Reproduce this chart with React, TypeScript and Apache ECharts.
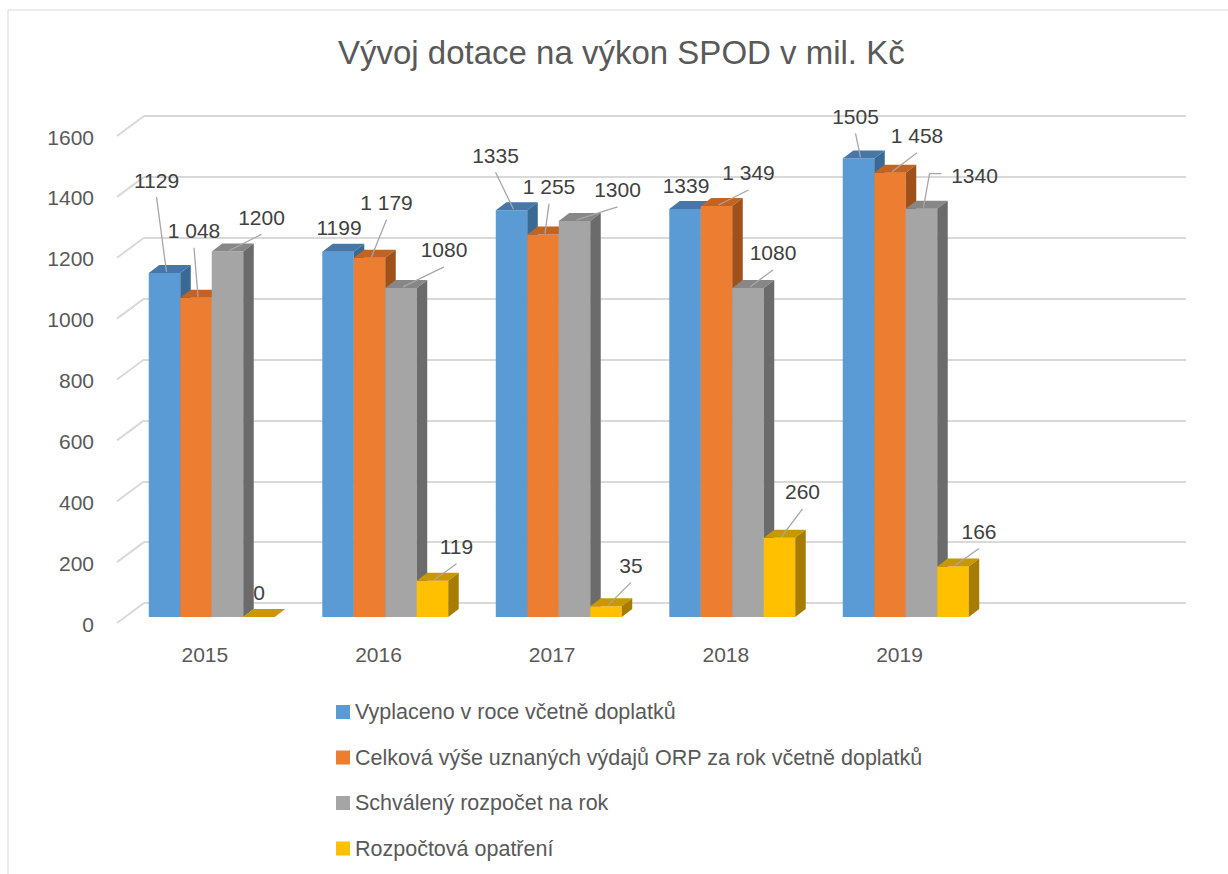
import React, { useEffect, useRef } from 'react';
import * as echarts from 'echarts';

const categories = ['2015', '2016', '2017', '2018', '2019', ''];
const seriesNames = [
  'Vyplaceno v roce včetně doplatků',
  'Celková výše uznaných výdajů ORP za rok včetně doplatků',
  'Schválený rozpočet na rok',
  'Rozpočtová opatření',
];
const vyplaceno = [1129, 1199, 1335, 1339, 1505];
const celkova = [1048, 1179, 1255, 1349, 1458];
const schvaleny = [1200, 1080, 1300, 1080, 1340];
const opatreni = [0, 119, 35, 260, 166];
const yTicks = [0, 200, 400, 600, 800, 1000, 1200, 1400, 1600];

const seriesValues = [vyplaceno, celkova, schvaleny, opatreni];
const useSpaceSeparator = [false, true, false, false];

const frontColors = ['#5B9BD5', '#ED7D31', '#A5A5A5', '#FFC000'];
const topColors = ['#4677A8', '#C2631F', '#878787', '#C99700'];
const sideColors = ['#3A6A94', '#9E5119', '#6B6B6B', '#A67D00'];

// label placement relative to bar top centre: [dx, dy, leader mode (0 none, 1 straight, 2 elbow)]
const labelOffsets = [
  [[-8, -93, 1], [1, -24, 0], [-16, -55, 1], [1, -24, 0], [-3, -42, 1]],
  [[-2, -67, 1], [17, -55, 1], [6, -48, 1], [32, -33, 1], [27, -37, 1]],
  [[34, -34, 1], [43, -38, 1], [43, -31, 1], [25, -35, 1], [53, -33, 2]],
  [[0, -25, 0], [24, -34, 1], [25, -41, 1], [23, -46, 1], [26, -35, 1]],
];

const FONT = 'Liberation Sans';
const BAR_RATIO = 0.1815;
const DX = 10.5;
const DY = -8;

function fmt(v: number, space: boolean) {
  const s = String(v);
  if (!space || v < 1000) return s;
  return s.slice(0, s.length - 3) + ' ' + s.slice(s.length - 3);
}

function barGeom(api: any, i: number, v: number, j: number) {
  const c = api.coord([i, v]);
  const base = api.coord([i, 0])[1];
  const bandW = api.size([1, 0])[0];
  const bw = bandW * BAR_RATIO;
  const x0 = c[0] - 2 * bw + j * bw;
  return { x0, bw, top: c[1], base };
}

function makeBarRender(j: number) {
  return (params: any, api: any) => {
    const i = api.value(0);
    const v = api.value(1);
    const { x0, bw, top, base } = barGeom(api, i, v, j);
    return {
      type: 'group',
      children: [
        {
          type: 'rect',
          shape: { x: x0, y: top, width: bw, height: base - top },
          style: { fill: frontColors[j] },
        },
        {
          type: 'polygon',
          shape: { points: [[x0, top], [x0 + bw, top], [x0 + bw + DX, top + DY], [x0 + DX, top + DY]] },
          style: { fill: topColors[j] },
        },
        {
          type: 'polygon',
          shape: { points: [[x0 + bw, top], [x0 + bw + DX, top + DY], [x0 + bw + DX, base + DY], [x0 + bw, base]] },
          style: { fill: sideColors[j] },
        },
      ],
    };
  };
}

function labelRender(params: any, api: any) {
  const i = api.value(0);
  const v = api.value(1);
  const j = api.value(2);
  const { x0, bw, top } = barGeom(api, i, v, j);
  const cx = x0 + bw / 2;
  const off = labelOffsets[j][i];
  const lx = cx + off[0];
  const ly = top + off[1];
  const children: any[] = [];
  if (off[2] === 1) {
    children.push({
      type: 'polyline',
      shape: { points: [[lx, ly + 17], [cx + 2, top - 1]] },
      style: { stroke: '#A6A6A6', lineWidth: 1.3, fill: 'none' },
    });
  } else if (off[2] === 2) {
    children.push({
      type: 'polyline',
      shape: { points: [[lx - 33, ly - 2], [lx - 45, ly - 2], [cx + 2, top - 1]] },
      style: { stroke: '#A6A6A6', lineWidth: 1.3, fill: 'none' },
    });
  }
  children.push({
    type: 'text',
    x: lx,
    y: ly,
    style: {
      text: fmt(v, useSpaceSeparator[j]),
      fill: '#404040',
      fontSize: 21,
      fontFamily: FONT,
      align: 'center',
      verticalAlign: 'middle',
    },
  });
  return { type: 'group', children };
}

function diagRender(params: any, api: any) {
  const y = api.coord([0, api.value(1)])[1];
  const x = params.coordSys.x;
  return {
    type: 'line',
    shape: { x1: x - 27, y1: y + 20, x2: x, y2: y },
    style: { stroke: '#D9D9D9', lineWidth: 2 },
  };
}

export default function App() {
  const ref = useRef<HTMLDivElement>(null);
  useEffect(() => {
    if (!ref.current) return;
    const chart = echarts.init(ref.current, undefined, { renderer: 'svg' });
    const barSeries = seriesValues.map((vals, j) => ({
      type: 'custom',
      name: seriesNames[j],
      xAxisIndex: 1,
      yAxisIndex: 1,
      itemStyle: { color: frontColors[j] },
      renderItem: makeBarRender(j),
      encode: { x: 0, y: 1 },
      data: vals.map((v, i) => [i, v]),
      z: 2,
    }));
    const labelData: number[][] = [];
    seriesValues.forEach((vals, j) => vals.forEach((v, i) => labelData.push([i, v, j])));

    const option: any = {
      animation: false,
      backgroundColor: '#ffffff',
      textStyle: { fontFamily: FONT },
      title: {
        text: 'Vývoj dotace na výkon SPOD v mil. Kč',
        left: 338,
        top: 36,
        padding: 0,
        textStyle: { fontSize: 33, fontWeight: 'normal', color: '#595959', fontFamily: FONT },
      },
      legend: {
        data: seriesNames,
        orient: 'vertical',
        left: 336,
        top: 701,
        padding: 0,
        icon: 'rect',
        itemWidth: 14,
        itemHeight: 14,
        itemGap: 23.5,
        textStyle: { fontSize: 21.5, color: '#595959', fontFamily: FONT, lineHeight: 21.5 },
        selectedMode: false,
      },
      graphic: [
        {
          type: 'rect',
          shape: { x: 8, y: 10, width: 1240, height: 900 },
          style: { fill: 'none', stroke: '#D9D9D9', lineWidth: 1 },
          silent: true,
        },
      ],
      grid: [
        { left: 144, top: 116, width: 1042, height: 487 },
        { left: 125, top: 129.5, width: 1041, height: 487.5 },
        { left: 118, top: 137, width: 1042, height: 487 },
      ],
      xAxis: [
        { type: 'category', gridIndex: 0, data: categories, show: false },
        { type: 'category', gridIndex: 1, data: categories, show: false },
        {
          type: 'category',
          gridIndex: 2,
          data: categories,
          axisLine: { show: false },
          axisTick: { show: false },
          axisLabel: { color: '#595959', fontSize: 21, margin: 20, fontFamily: FONT },
        },
      ],
      yAxis: [
        {
          type: 'value',
          gridIndex: 0,
          min: 0,
          max: 1600,
          interval: 200,
          axisLine: { show: false },
          axisTick: { show: false },
          axisLabel: { show: false },
          splitLine: { show: true, lineStyle: { color: '#D9D9D9', width: 2 } },
        },
        { type: 'value', gridIndex: 1, min: 0, max: 1600, interval: 200, show: false },
        {
          type: 'value',
          gridIndex: 2,
          min: 0,
          max: 1600,
          interval: 200,
          axisLine: { show: false },
          axisTick: { show: false },
          splitLine: { show: false },
          axisLabel: {
            color: '#595959',
            fontSize: 21,
            margin: 24,
            fontFamily: FONT,
            formatter: (v: number) => String(v),
          },
        },
      ],
      series: [
        {
          type: 'custom',
          name: 'diagonals',
          xAxisIndex: 0,
          yAxisIndex: 0,
          renderItem: diagRender,
          encode: { x: 0, y: 1 },
          data: yTicks.map((v) => [0, v]),
          silent: true,
          z: 1,
        },
        ...barSeries,
        {
          type: 'custom',
          name: 'labels',
          xAxisIndex: 1,
          yAxisIndex: 1,
          renderItem: labelRender,
          encode: { x: 0, y: 1 },
          data: labelData,
          silent: true,
          z: 5,
        },
      ],
    };
    chart.setOption(option);
    return () => chart.dispose();
  }, []);
  return (
    <div
      ref={ref}
      style={{ position: 'fixed', left: 0, top: 0, width: 1228, height: 874, background: '#fff' }}
    />
  );
}
